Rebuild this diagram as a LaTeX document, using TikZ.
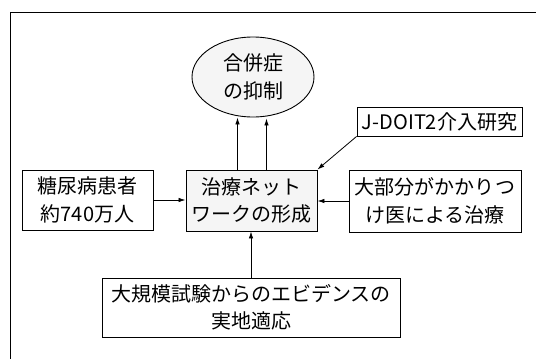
\documentclass[tikz,border=0pt]{standalone}
\usepackage{fontspec}
\setmainfont{Noto Sans CJK JP}
\usetikzlibrary{arrows.meta,shapes.geometric}
\tikzset{
  box/.style={draw, line width=0.9pt, inner sep=0pt, align=center, font=\fontsize{20}{27.5}\selectfont},
  hub/.style={box, fill=gray!8},
  arr/.style={line width=0.8pt, -{Latex[length=7pt,width=4.5pt]}},
  frame/.style={line width=1pt}
}
\begin{document}
\begin{tikzpicture}[x=1pt,y=-1pt]
\useasboundingbox (0,0) rectangle (536,359);
\coordinate (ftl) at (10,12);
\coordinate (ftr) at (536,12);
\coordinate (fbl) at (10,359);
\draw[frame] (ftr) -- (ftl) -- (fbl);

\node[box, fill=gray!8, ellipse, minimum width=122pt, minimum height=80pt] (ell) at (253,77) {合併症\\の抑制};
\node[box, minimum width=131pt, minimum height=60pt] (left) at (87.5,200) {糖尿病患者\\約740万人};
\node[hub, minimum width=131pt, minimum height=61pt] (ctr) at (251.5,200.5) {治療ネット\\ワークの形成};
\node[box, minimum width=172pt, minimum height=62pt] (right) at (435,201) {大部分がかかりつ\\け医による治療};
\node[box, minimum width=165pt, minimum height=29pt] (jd) at (439.5,121.5) {J-DOIT2介入研究};
\node[box, minimum width=298pt, minimum height=59pt] (bot) at (251,307.5) {大規模試験からのエビデンスの\\実地適応};

\draw[arr] ([xshift=-14pt]ctr.north) -- ([xshift=-14pt]ctr.north |- ell.south);
\draw[arr] ([xshift=15pt]ctr.north) -- ([xshift=15pt,yshift=-1pt]ctr.north |- ell.south);
\draw[arr] (left.east) -- (left.east -| ctr.west);
\draw[arr] (right.west) -- (right.west -| ctr.east);
\draw[arr] (bot.north) -- (bot.north |- ctr.south);
\draw[arr] (jd.south west) -- (ctr.north east);
\end{tikzpicture}
\end{document}
